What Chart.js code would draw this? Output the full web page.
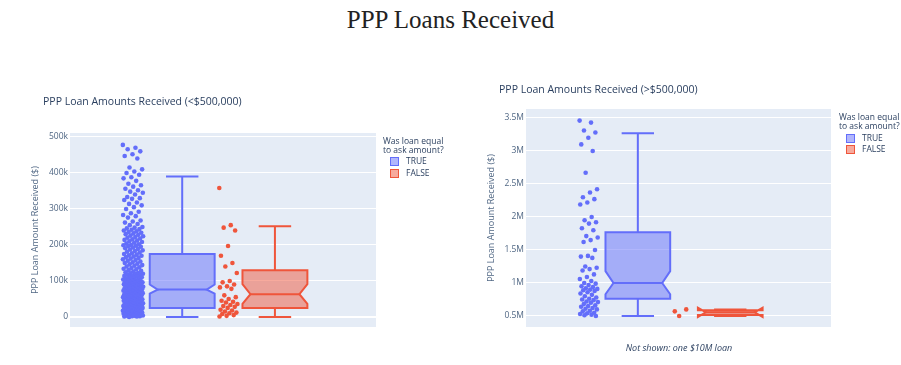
<!DOCTYPE html>
<html>
<head>
<meta charset="utf-8">
<script src="https://cdn.jsdelivr.net/npm/chart.js@4"></script>
<style>
    body { margin: 0; width: 901px; height: 365px; background: #fff; position: relative; overflow: hidden; font-family: 'Open Sans', sans-serif; }
    canvas { position: absolute; top: 0; }
    .abs { position: absolute; white-space: nowrap; }
    #main-title { left: 0; width: 901px; top: 5px; text-align: center; font-family: 'Liberation Serif', serif; font-size: 25px; line-height: 30px; color: #222; }
    .sub-title { font-size: 10.5px; line-height: 12px; color: #2a3f5f; }
    .leg { font-size: 8.5px; line-height: 9px; color: #2a3f5f; }
    .sw { position: absolute; width: 7px; height: 7px; border: 1px solid; }
    .note { font-size: 9px; line-height: 12px; font-style: italic; color: #2a3f5f; width: 200px; text-align: center; }
</style>
</head>
<body>
<div id="main-title" class="abs">PPP Loans Received</div>

<canvas id="chart-left" width="450" height="365" style="left:0"></canvas>
<canvas id="chart-right" width="451" height="365" style="left:450px"></canvas>

<div class="abs sub-title" style="left:43px; top:95px">PPP Loan Amounts Received (&lt;$500,000)</div>
<div class="abs sub-title" style="left:499px; top:83px">PPP Loan Amounts Received (&gt;$500,000)</div>

<div class="abs leg" style="left:383px; top:136px">Was loan equal<br>to ask amount?</div>
<div class="sw" style="left:390px; top:157px; border-color:#636efa; background:rgba(99,110,250,0.5)"></div>
<div class="abs leg" style="left:406px; top:156px">TRUE</div>
<div class="sw" style="left:390px; top:169px; border-color:#ef553b; background:rgba(239,85,59,0.5)"></div>
<div class="abs leg" style="left:406px; top:168px">FALSE</div>

<div class="abs leg" style="left:839px; top:112px">Was loan equal<br>to ask amount?</div>
<div class="sw" style="left:846px; top:134px; border-color:#636efa; background:rgba(99,110,250,0.5)"></div>
<div class="abs leg" style="left:862px; top:133px">TRUE</div>
<div class="sw" style="left:846px; top:145px; border-color:#ef553b; background:rgba(239,85,59,0.5)"></div>
<div class="abs leg" style="left:862px; top:144px">FALSE</div>

<div class="abs note" style="left:579px; top:342px">Not shown: one $10M loan</div>

<script>
// categories: loan equal to ask amount?
const groups = ['TRUE', 'FALSE'];
const colors = ['#636efa', '#ef553b'];
const fills = ['rgba(99,110,250,0.5)', 'rgba(239,85,59,0.5)'];

// ---- left panel, values in $k ----
const leftTicks = [0, 100, 200, 300, 400, 500];
const leftTickLabels = ['0', '100k', '200k', '300k', '400k', '500k'];

const leftTruePts = [
    478, 470, 466, 460, 452, 447, 440, 415, 410, 404, 400, 395, 388, 385, 378, 370, 366,
    362, 356, 352, 348, 345, 340, 333, 330, 328, 325, 318, 314, 310, 305, 300, 292,
    288, 283, 280, 276, 268, 265, 262, 258, 255, 250, 248, 246, 244, 242, 240,
    238, 236, 234, 232, 230, 228, 226, 224, 222, 220, 218, 216, 214, 212, 210, 208, 206, 204, 202, 200,
    199, 198, 197, 195, 193, 191, 189, 187, 185, 183, 181, 179, 177, 175, 173, 171, 170, 168, 166, 164,
    162, 160, 158, 156, 154, 152, 150, 148, 146, 144, 142, 140, 138, 136, 134, 132, 130, 128, 126,
    124, 122, 121, 120, 119, 118, 116, 115, 114, 112, 111, 110, 108, 107, 106, 105, 104, 102, 101, 100,
    100, 99, 98, 97, 96, 95, 94, 93, 92, 91, 90, 90, 89, 88, 87, 86, 85, 84, 83, 82,
    81, 80, 80, 79, 78, 77, 76, 75, 75, 74, 73, 72, 71, 70, 70, 69, 68, 67, 66, 65,
    65, 64, 63, 62, 61, 60, 60, 59, 58, 57, 56, 55, 55, 54, 53, 52, 51, 50, 50, 49,
    48, 47, 46, 45, 45, 44, 43, 42, 41, 40, 40, 39, 38, 38, 37, 36, 36, 35, 35, 34,
    33, 33, 32, 31, 31, 30, 30, 29, 28, 28, 27, 26, 26, 25, 25, 24, 23, 23, 22, 21,
    21, 20, 20, 19, 18, 18, 17, 16, 16, 15, 15, 14, 13, 13, 12, 11, 11, 10, 10, 9,
    8, 8, 7, 6, 6, 5, 5, 4, 3, 3, 2, 2, 1, 1, 0
];
const leftFalsePts = [
    358, 255, 248, 240, 197, 170, 150, 140, 122, 100, 96, 90, 85, 82, 78, 60, 55, 50, 45, 42,
    40, 36, 33, 30, 28, 25, 20, 18, 15, 12, 10, 8, 5, 3, 1
];

const leftLo = [0, 0];
const leftQ1 = [25, 25];
const leftNotchLo = [65, 36];
const leftMed = [76, 63];
const leftNotchHi = [90, 91];
const leftQ3 = [175, 130];
const leftHi = [390, 252];

// ---- right panel, values in $M ----
const rightTicks = [0.5, 1, 1.5, 2, 2.5, 3, 3.5];
const rightTickLabels = ['0.5M', '1M', '1.5M', '2M', '2.5M', '3M', '3.5M'];

const rightTruePts = [
    3.46, 3.43, 3.31, 3.28, 3.20, 3.10, 3.00, 2.67, 2.42, 2.37, 2.30, 2.27, 2.22, 2.19, 2.00, 1.95,
    1.92, 1.90, 1.83, 1.80, 1.71, 1.69, 1.65, 1.62, 1.50, 1.41, 1.40, 1.38, 1.25, 1.23, 1.21, 1.19,
    1.13, 1.09, 1.06, 1.03, 1.00, 0.99, 0.97, 0.95, 0.94, 0.92, 0.91, 0.90, 0.89, 0.88, 0.86, 0.84,
    0.82, 0.80, 0.78, 0.76, 0.75, 0.74, 0.72, 0.71, 0.70, 0.68, 0.66, 0.65, 0.64, 0.62, 0.61, 0.60,
    0.58, 0.57, 0.55, 0.54, 0.53, 0.52, 0.51, 0.50
];
const rightFalsePts = [0.57, 0.60, 0.50];

const rightLo = [0.5, 0.5];
const rightQ1 = [0.76, 0.515];
const rightNotchLo = [0.83, 0.485];
const rightMed = [1.0, 0.555];
const rightNotchHi = [1.18, 0.625];
const rightQ3 = [1.77, 0.585];
const rightHi = [3.27, 0.6];

// spread points sideways next to each box (deterministic jitter)
function jitter(vals, center, spread) {
    return vals.map((v, i) => ({ x: center + (((i * 0.618034) % 1) - 0.5) * 2 * spread, y: v }));
}

const plotBg = {
    id: 'plotBg',
    beforeDraw(chart) {
        const { ctx, chartArea: a } = chart;
        ctx.save();
        ctx.fillStyle = '#e5ecf6';
        ctx.fillRect(a.left, a.top, a.width, a.height);
        ctx.restore();
    }
};

function boxPlugin(st) {
    return {
        id: 'boxes',
        beforeDatasetsDraw(chart) {
            const { ctx, chartArea: a, scales: { x, y } } = chart;
            ctx.save();
            ctx.beginPath();
            ctx.rect(a.left, a.top, a.width, a.height);
            ctx.clip();
            ctx.lineWidth = 2;
            st.q1.forEach((q1, i) => {
                const L = x.getPixelForValue(i - 0.35), R = x.getPixelForValue(i + 0.35);
                const M = x.getPixelForValue(i);
                const cL = x.getPixelForValue(i - 0.175), cR = x.getPixelForValue(i + 0.175);
                const ins = x.getPixelForValue(i - 0.35 + 0.086) - L;
                const yQ1 = y.getPixelForValue(q1), yQ3 = y.getPixelForValue(st.q3[i]);
                const yMed = y.getPixelForValue(st.med[i]);
                const yNLo = y.getPixelForValue(st.nlo[i]), yNHi = y.getPixelForValue(st.nhi[i]);
                const yLo = y.getPixelForValue(st.lo[i]), yHi = y.getPixelForValue(st.hi[i]);

                ctx.strokeStyle = colors[i];
                ctx.fillStyle = fills[i];

                ctx.beginPath();
                ctx.moveTo(L, yQ1);
                ctx.lineTo(L, yNLo);
                ctx.lineTo(L + ins, yMed);
                ctx.lineTo(L, yNHi);
                ctx.lineTo(L, yQ3);
                ctx.lineTo(R, yQ3);
                ctx.lineTo(R, yNHi);
                ctx.lineTo(R - ins, yMed);
                ctx.lineTo(R, yNLo);
                ctx.lineTo(R, yQ1);
                ctx.closePath();
                ctx.fill();
                ctx.stroke();

                ctx.beginPath();
                ctx.moveTo(L + ins, yMed); ctx.lineTo(R - ins, yMed);
                // whiskers + caps
                ctx.moveTo(M, yQ3); ctx.lineTo(M, yHi);
                ctx.moveTo(cL, yHi); ctx.lineTo(cR, yHi);
                ctx.moveTo(M, yQ1); ctx.lineTo(M, yLo);
                ctx.moveTo(cL, yLo); ctx.lineTo(cR, yLo);
                ctx.stroke();
            });
            ctx.restore();
        }
    };
}

function makeChart(id, opts) {
    const font = { family: "'Open Sans', sans-serif", size: 8.5 };
    return new Chart(document.getElementById(id), {
        type: 'scatter',
        data: {
            datasets: [
                { label: groups[0], data: jitter(opts.truePts, -0.53, opts.spread), backgroundColor: colors[0], pointRadius: 2.3, pointBorderWidth: 0 },
                { label: groups[1], data: jitter(opts.falsePts, 1 - 0.5, 0.1), backgroundColor: colors[1], pointRadius: 2.3, pointBorderWidth: 0 }
            ]
        },
        options: {
            responsive: false,
            animation: false,
            layout: { padding: opts.padding },
            plugins: { legend: { display: false }, tooltip: { enabled: false } },
            scales: {
                x: { type: 'linear', display: false, min: -1.21, max: 2.09 },
                y: {
                    min: opts.min,
                    max: opts.max,
                    afterFit: s => { s.width = opts.axisWidth; },
                    afterBuildTicks: s => { s.ticks = opts.ticks.map(v => ({ value: v })); },
                    ticks: {
                        callback: (v, i) => opts.labels[i],
                        color: '#506784',
                        font: font,
                        padding: 2
                    },
                    grid: {
                        color: '#ffffff',
                        lineWidth: c => (c.tick && c.tick.value === 0 ? 2 : 1),
                        drawTicks: false
                    },
                    border: { display: false },
                    title: {
                        display: true,
                        text: 'PPP Loan Amount Received ($)',
                        color: '#506784',
                        font: { family: "'Open Sans', sans-serif", size: 9 },
                        padding: { top: opts.titlePad, bottom: 0 }
                    }
                }
            }
        },
        plugins: [plotBg, boxPlugin(opts.stats)]
    });
}

makeChart('chart-left', {
    truePts: leftTruePts, falsePts: leftFalsePts, spread: 0.11,
    min: -28, max: 511, ticks: leftTicks, labels: leftTickLabels,
    axisWidth: 70, titlePad: 30,
    padding: { left: 0, right: 74, top: 133, bottom: 38 },
    stats: { lo: leftLo, q1: leftQ1, nlo: leftNotchLo, med: leftMed, nhi: leftNotchHi, q3: leftQ3, hi: leftHi }
});

makeChart('chart-right', {
    truePts: rightTruePts, falsePts: rightFalsePts, spread: 0.1,
    min: 0.333, max: 3.636, ticks: rightTicks, labels: rightTickLabels,
    axisWidth: 76, titlePad: 36,
    padding: { left: 0, right: 70, top: 109, bottom: 38 },
    stats: { lo: rightLo, q1: rightQ1, nlo: rightNotchLo, med: rightMed, nhi: rightNotchHi, q3: rightQ3, hi: rightHi }
});
</script>
</body>
</html>
